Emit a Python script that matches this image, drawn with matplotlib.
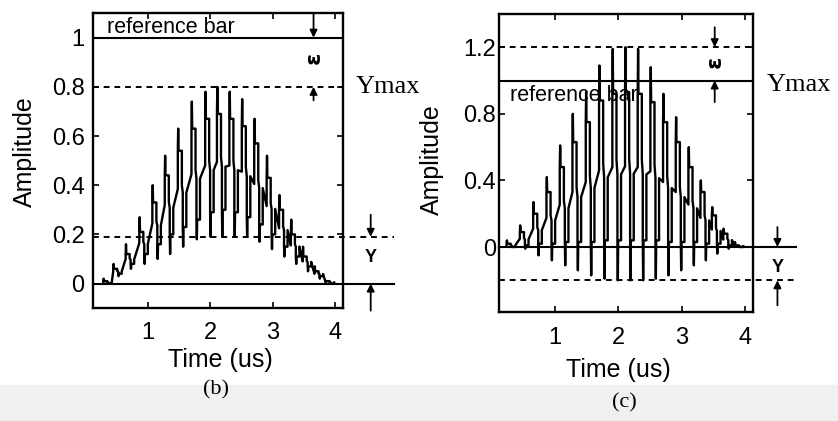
import matplotlib
matplotlib.use("Agg")
import matplotlib.pyplot as plt
from matplotlib.patches import Rectangle

plt.rcParams['font.family'] = ['Liberation Sans', 'DejaVu Sans']

# (b) pulse train: centre time, spike top, spike bottom, body top, body bottom
t_b = [0.34, 0.50, 0.70, 0.92, 1.13, 1.33, 1.54, 1.76, 1.98, 2.17, 2.37, 2.57, 2.77, 2.97, 3.17, 3.36, 3.55, 3.74, 3.92]
peak_b = [0.02, 0.08, 0.16, 0.27, 0.40, 0.52, 0.63, 0.74, 0.78, 0.80, 0.78, 0.75, 0.67, 0.52, 0.36, 0.26, 0.15, 0.07, 0.01]
trough_b = [0.0, 0.03, 0.06, 0.08, 0.10, 0.12, 0.15, 0.18, 0.19, 0.19, 0.19, 0.19, 0.17, 0.14, 0.11, 0.08, 0.05, 0.02, 0.0]
top_b = [0.01, 0.06, 0.12, 0.21, 0.33, 0.44, 0.54, 0.63, 0.67, 0.69, 0.67, 0.64, 0.57, 0.43, 0.30, 0.20, 0.11, 0.05, 0.01]
bottom_b = [0.0, 0.04, 0.08, 0.12, 0.16, 0.20, 0.23, 0.26, 0.29, 0.30, 0.29, 0.27, 0.24, 0.20, 0.15, 0.11, 0.07, 0.03, 0.0]

# (c) pulse train
t_c = [0.30, 0.51, 0.72, 0.93, 1.14, 1.34, 1.55, 1.76, 1.97, 2.17, 2.37, 2.57, 2.77, 2.97, 3.17, 3.36, 3.54, 3.72, 3.90]
peak_c = [0.04, 0.13, 0.27, 0.42, 0.61, 0.80, 0.93, 1.09, 1.19, 1.20, 1.19, 1.08, 0.92, 0.78, 0.60, 0.40, 0.24, 0.11, 0.03]
trough_c = [0.0, -0.01, -0.05, -0.08, -0.11, -0.14, -0.17, -0.19, -0.20, -0.20, -0.20, -0.19, -0.17, -0.14, -0.11, -0.08, -0.04, -0.01, 0.0]
top_c = [0.02, 0.09, 0.20, 0.33, 0.48, 0.63, 0.75, 0.88, 0.92, 0.93, 0.92, 0.87, 0.75, 0.63, 0.48, 0.33, 0.19, 0.08, 0.01]
bottom_c = [0.0, 0.01, 0.02, 0.02, 0.03, 0.03, 0.03, 0.04, 0.04, 0.04, 0.04, 0.04, 0.03, 0.03, 0.03, 0.02, 0.02, 0.01, 0.0]

# reference levels
ref_b, ymax_b, ylow_b = 1.0, 0.8, 0.19
ref_c, ymax_c, ylow_c = 1.0, 1.2, -0.2


def pulse_trace(t, peak, trough, top, bottom):
    # upper box left of the lower box, joined by a slanted step,
    # with a thin spike off the top and one off the bottom
    xs, ys = [], []
    for ti, p, q, hi, lo in zip(t, peak, trough, top, bottom):
        mid = (hi + lo) / 2
        d = 0.05 * (hi - lo)
        shape = [(-0.065, mid), (-0.065, hi), (-0.059, p), (-0.053, hi),
                 (0.0, hi), (0.0, mid + d), (0.015, mid - d), (0.015, lo),
                 (0.021, q), (0.027, lo), (0.072, lo), (0.072, mid - d)]
        for dx, y in shape:
            xs.append(ti + dx)
            ys.append(y)
    return xs, ys


def arrow(ax, x, y0, y1):
    ax.annotate("", xy=(x, y1), xytext=(x, y0), annotation_clip=False,
                arrowprops=dict(arrowstyle="-|>", color="k", lw=1.3,
                                mutation_scale=11, shrinkA=0, shrinkB=0))


def style_axes(ax, yticks, ylabels, ylim):
    ax.set_xlim(0.11, 4.13)
    ax.set_ylim(*ylim)
    ax.set_xticks([1, 2, 3, 4])
    ax.set_xticklabels(["1", "2", "3", "4"])
    ax.set_yticks(yticks)
    ax.set_yticklabels(ylabels)
    ax.tick_params(direction="in", top=True, right=True, length=4, width=1.2,
                   labelsize=17)
    for s in ax.spines.values():
        s.set_linewidth(1.7)
    ax.set_xlabel("Time (us)", fontsize=18)
    ax.set_ylabel("Amplitude", fontsize=18)


fig = plt.figure(figsize=(8.38, 4.21), dpi=100)
fig.patches.append(Rectangle((0, 0), 1, 36 / 421, transform=fig.transFigure,
                             color="#eef0f2", zorder=-1))

dash = (0, (3, 2.5))

# ---- (b)
ax1 = fig.add_axes([0.111, 0.268, 0.298, 0.701])
xs, ys = pulse_trace(t_b, peak_b, trough_b, top_b, bottom_b)
ax1.plot(xs, ys, color="k", lw=1.7)
ax1.axhline(ref_b, color="k", lw=1.5)
ax1.axhline(ymax_b, color="k", lw=1.4, ls=dash)
ax1.plot([0.11, 4.95], [0, 0], color="k", lw=1.5, clip_on=False)
ax1.plot([0.11, 4.95], [ylow_b, ylow_b], color="k", lw=1.4, ls=dash, clip_on=False)
style_axes(ax1, [0, 0.2, 0.4, 0.6, 0.8, 1.0], ["0", "0.2", "0.4", "0.6", "0.8", "1"], (-0.1, 1.1))
ax1.tick_params(axis="y", pad=6)
ax1.tick_params(axis="x", pad=10)
ax1.yaxis.set_label_coords(-0.224, 0.53)
ax1.xaxis.set_label_coords(0.508, -0.136)
ax1.text(0.34, 1.085, "reference bar", fontsize=15.5, va="top", ha="left")
arrow(ax1, 3.66, 1.1, ref_b)
arrow(ax1, 3.66, 0.745, ymax_b)
ax1.text(3.66, 0.92, "ε", fontsize=16, fontweight="bold", rotation=90,
         ha="center", va="center", family="DejaVu Sans")
ax1.text(4.34, ymax_b, "Ymax", fontsize=19, family="Liberation Serif",
         va="center", ha="left", clip_on=False)
arrow(ax1, 4.58, 0.28, ylow_b)
arrow(ax1, 4.58, -0.11, 0.0)
ax1.text(4.58, 0.105, "Y", fontsize=13, fontweight="bold", ha="center",
         va="center", clip_on=False)

# ---- (c)
ax2 = fig.add_axes([0.595, 0.259, 0.304, 0.708])
xs, ys = pulse_trace(t_c, peak_c, trough_c, top_c, bottom_c)
ax2.plot(xs, ys, color="k", lw=1.7)
ax2.axhline(ref_c, color="k", lw=1.5)
ax2.axhline(ymax_c, color="k", lw=1.4, ls=dash)
ax2.plot([0.11, 4.81], [0, 0], color="k", lw=1.5, clip_on=False)
ax2.plot([0.11, 4.81], [ylow_c, ylow_c], color="k", lw=1.4, ls=dash, clip_on=False)
style_axes(ax2, [0, 0.4, 0.8, 1.2], ["0", "0.4", "0.8", "1.2"], (-0.39, 1.4))
ax2.tick_params(axis="y", pad=2)
ax2.tick_params(axis="x", pad=11)
ax2.yaxis.set_label_coords(-0.213, 0.51)
ax2.xaxis.set_label_coords(0.472, -0.154)
ax2.text(0.29, 0.975, "reference bar", fontsize=15.5, va="top", ha="left")
arrow(ax2, 3.52, 1.32, ymax_c)
arrow(ax2, 3.52, 0.87, ref_c)
ax2.text(3.52, 1.11, "ε", fontsize=16, fontweight="bold", rotation=90,
         ha="center", va="center", family="DejaVu Sans")
ax2.text(4.34, 0.975, "Ymax", fontsize=19, family="Liberation Serif",
         va="center", ha="left", clip_on=False)
arrow(ax2, 4.51, 0.12, 0.0)
arrow(ax2, 4.51, -0.35, ylow_c)
ax2.text(4.51, -0.12, "Y", fontsize=13, fontweight="bold", ha="center",
         va="center", clip_on=False)

fig.text(216 / 838, 1 - 390 / 421, "(b)", fontsize=16, family="Liberation Serif",
         ha="center", va="center")
fig.text(624 / 838, 1 - 403 / 421, "(c)", fontsize=16, family="Liberation Serif",
         ha="center", va="center")

fig.savefig("out.png", dpi=100)
